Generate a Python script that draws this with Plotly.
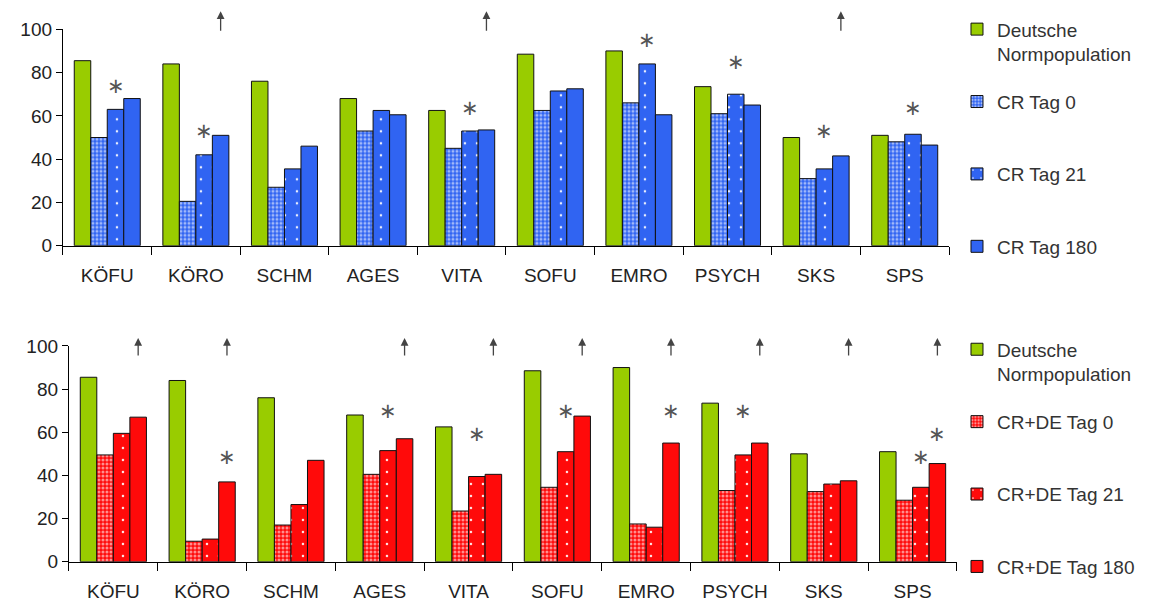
import plotly.graph_objects as go

# Categories (scales of the quality-of-life questionnaire)
categories = ["KÖFU", "KÖRO", "SCHM", "AGES", "VITA", "SOFU", "EMRO", "PSYCH", "SKS", "SPS"]

# German reference population (shown in both panels)
norm_population = [85.5, 84, 76, 68, 62.5, 88.5, 90, 73.5, 50, 51]

# Upper panel: CR group
cr_tag0 = [50, 20.5, 27, 53, 45, 62.5, 66, 61, 31, 48]
cr_tag21 = [63, 42, 35.5, 62.5, 53, 71.5, 84, 70, 35.5, 51.5]
cr_tag180 = [68, 51, 46, 60.5, 53.5, 72.5, 60.5, 65, 41.5, 46.5]

# Lower panel: CR+DE group
crde_tag0 = [49.5, 9.5, 17, 40.5, 23.5, 34.5, 17.5, 33, 32.5, 28.5]
crde_tag21 = [59.5, 10.5, 26.5, 51.5, 39.5, 51, 16, 49.5, 36, 34.5]
crde_tag180 = [67, 37, 47, 57, 40.5, 67.5, 55, 55, 37.5, 45.5]

# Significance markers: (category, series index within group, height)
cr_stars = [("KÖFU", 2, 74), ("KÖRO", 2, 53), ("VITA", 2, 63.5), ("EMRO", 2, 95),
            ("PSYCH", 2, 85), ("SKS", 2, 53), ("SPS", 2, 63.5)]
crde_stars = [("KÖRO", 3, 48.5), ("AGES", 2, 70), ("VITA", 2, 59), ("SOFU", 2, 70),
              ("EMRO", 3, 70), ("PSYCH", 2, 70), ("SPS", 2, 48.5), ("SPS", 3, 59)]

# Trend arrows above the Tag 180 bar
cr_arrows = ["KÖRO", "VITA", "SKS"]
crde_arrows = ["KÖFU", "KÖRO", "AGES", "VITA", "SOFU", "EMRO", "PSYCH", "SKS", "SPS"]

GREEN = "#99cc00"
BLUE = "#3064f2"
RED = "#ff0a0a"
FONT = "Liberation Sans, Arial, sans-serif"
BARGAP = 0.255
NBARS = 4

fine = dict(shape=".", size=4, solidity=0.45, fgcolor="#ffffff", fgopacity=0.55)
sparse = dict(shape=".", size=12, solidity=0.035, fgcolor="#ffffff", fgopacity=0.9)

fig = go.Figure()


def add_panel(xa, ya, legend, series, group_prefix):
    for i, (name, vals, color, pattern) in enumerate(series):
        marker = dict(color=color, line=dict(color="#111111", width=1))
        if pattern:
            marker["pattern"] = pattern
        fig.add_trace(go.Bar(
            x=categories, y=vals, name=name, xaxis=xa, yaxis=ya,
            legend=legend, legendgroup=f"{group_prefix}{i}",
            marker=marker, hoverinfo="x+y+name",
        ))


NL = "<br>\u00a0"
add_panel("x", "y", "legend", [
    ("Deutsche<br>Normpopulation", norm_population, GREEN, None),
    ("CR Tag 0" + NL, cr_tag0, BLUE, fine),
    ("CR Tag 21" + NL, cr_tag21, BLUE, sparse),
    ("CR Tag 180" + NL, cr_tag180, BLUE, None),
], "cr")
add_panel("x2", "y2", "legend2", [
    ("Deutsche<br>Normpopulation", norm_population, GREEN, None),
    ("CR+DE Tag 0" + NL, crde_tag0, RED, fine),
    ("CR+DE Tag 21" + NL, crde_tag21, RED, sparse),
    ("CR+DE Tag 180" + NL, crde_tag180, RED, None),
], "crde")

bar_w = (1 - BARGAP) / NBARS


def bar_x(cat, j):
    return categories.index(cat) + (j - (NBARS - 1) / 2) * bar_w


annotations = []
for stars, xr, yr in [(cr_stars, "x", "y"), (crde_stars, "x2", "y2")]:
    for cat, j, h in stars:
        annotations.append(dict(
            x=bar_x(cat, j), y=h, xref=xr, yref=yr, text="∗", showarrow=False,
            font=dict(family="DejaVu Sans", size=21, color="#555555"),
            xanchor="center", yanchor="middle",
        ))

for arrows, xr, yr, shift, length in [(cr_arrows, "x", "y", 18, 21), (crde_arrows, "x2", "y2", 8, 19)]:
    for cat in arrows:
        annotations.append(dict(
            x=bar_x(cat, 3), y=100, xref=xr, yref=yr, text="", showarrow=True,
            ax=0, ay=length, axref="pixel", ayref="pixel", yshift=shift,
            arrowhead=2, arrowsize=1.2, arrowwidth=1.3, arrowcolor="#444444",
        ))

tickfont = dict(family=FONT, size=19, color="#222222")
xcommon = dict(type="category", showline=True, linecolor="#000000", linewidth=1.2,
               ticks="outside", tickson="boundaries", ticklen=8, tickcolor="#000000",
               tickfont=tickfont, showgrid=False, zeroline=False, range=[-0.5, 9.5],
               ticklabelstandoff=12, fixedrange=True, automargin=False)
ycommon = dict(range=[0, 100], tickvals=[0, 20, 40, 60, 80, 100], showline=True,
               linecolor="#000000", linewidth=1.2, ticks="outside", ticklen=6,
               tickcolor="#000000", tickfont=tickfont, showgrid=False, zeroline=False,
               fixedrange=True, automargin=False)
legcommon = dict(x=0.8300, xanchor="left", yanchor="top", valign="top", tracegroupgap=20,
                 font=dict(family=FONT, size=19, color="#333333"),
                 bgcolor="rgba(0,0,0,0)", itemwidth=30, itemclick=False)

fig.update_layout(
    width=1153, height=604,
    margin=dict(l=0, r=0, t=0, b=0, autoexpand=False),
    paper_bgcolor="#ffffff", plot_bgcolor="#ffffff",
    barmode="group", bargap=BARGAP, bargroupgap=0,
    xaxis=dict(domain=[0.0546, 0.8231], anchor="y", **xcommon),
    yaxis=dict(domain=[0.5932, 0.9515], anchor="x", **ycommon),
    xaxis2=dict(domain=[0.0598, 0.8300], anchor="y2", **xcommon),
    yaxis2=dict(domain=[0.0700, 0.4272], anchor="x2", **ycommon),
    legend=dict(y=0.983, **legcommon),
    legend2=dict(y=0.453, **legcommon),
    annotations=annotations,
    showlegend=True,
)

fig.write_html("out.html")
